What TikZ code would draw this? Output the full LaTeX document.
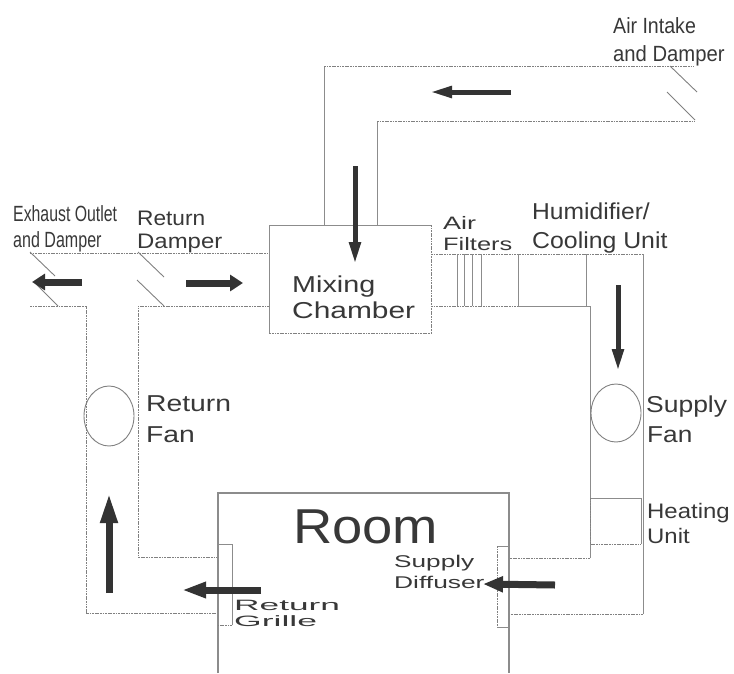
\documentclass[tikz,border=0pt]{standalone}
\usepackage{fontspec}
\setmainfont{Liberation Sans}
\usetikzlibrary{arrows.meta,positioning,calc}
\newcommand{\wide}[2]{\scalebox{#1}[1]{#2}}
\tikzset{
	duct/.style={draw=black!45,line width=0.9pt},
	ductdot/.style={draw=black!50,line width=0.9pt,dash pattern=on 1.8pt off 0.8pt},
	flap/.style={draw=black!50,line width=0.9pt},
	flow/.style={draw=black!80,line width=7pt,-{Triangle[length=13pt,width=16pt]}},
	thinflow/.style={draw=black!80,line width=5pt,-{Triangle[length=22pt,width=11pt]}},
	lbl/.style={anchor=base west,inner sep=0pt,text=black!78,font=\fontsize{#1}{#1}\selectfont},
}
\begin{document}
\begin{tikzpicture}[x=1pt,y=-1pt]
		\useasboundingbox (0,0) rectangle (734,673);
		
		% outside air duct
		\coordinate (IA) at (324,225);
		\coordinate (IB) at (324,66);
		\coordinate (IC) at (694,66);
		\coordinate (ID) at (377,225);
		\coordinate (IE) at (377,121);
		\coordinate (IF) at (695,121);
		\draw[duct] (IA)--(IB);
		\draw[duct] (ID)--(IE);
		\draw[ductdot] (IB)--(IC);
		\draw[ductdot] (IE)--(IF);
		
		% mixing chamber
		\coordinate (MA) at (269,225);
		\coordinate (MB) at (431,225);
		\coordinate (MC) at (431,333);
		\coordinate (MD) at (269,333);
		\draw[duct] (MD)--(MA)--(MB);
		\draw[ductdot] (MB)--(MC)--(MD);
		
		% return side
		\coordinate (RA) at (30,253);
		\coordinate (RB) at (30,306);
		\coordinate (RC) at (86,306);
		\coordinate (RD) at (86,613);
		\coordinate (RE) at (218,613);
		\coordinate (RF) at (269,253);
		\coordinate (RG) at (269,306);
		\coordinate (RH) at (138,306);
		\coordinate (RI) at (138,557);
		\coordinate (RJ) at (218,557);
		\draw[ductdot] (RA)--(RF);
		\draw[ductdot] (RB)--(RC)--(RD)--(RE);
		\draw[ductdot] (RG)--(RH)--(RI)--(RJ);
		
		% supply side
		\coordinate (SA) at (431,254);
		\coordinate (SB) at (643,254);
		\coordinate (SC) at (643,614);
		\coordinate (SD) at (509,614);
		\coordinate (SE) at (431,306);
		\coordinate (SF) at (590,306);
		\coordinate (SG) at (590,558);
		\coordinate (SH) at (509,558);
		\draw[ductdot] (SA)--(SB);
		\draw[duct] (SB)--(SC);
		\draw[ductdot] (SC)--(SD);
		\draw[ductdot] (SE)--(518,306);
		\draw[duct] (518,306)--(SF)--(SG);
		\draw[ductdot] (SG)--(SH);
		
		% filters, humidifier, heating unit
		\foreach \fx in {457,464,472,481}
			\draw[duct] (\fx,254)--(\fx,306);
		\draw[duct] (518,254)--(518,306);
		\draw[duct] (586,254)--(586,306);
		\draw[duct] (641,498)--(590,498);
		\draw[ductdot] (590,498)--(590,544)--(641,544);
		\draw[duct] (641,498)--(641,544);
		
		% fans
		\draw[flap] (109,416) ellipse (25 and 30);
		\draw[flap] (616,413) ellipse (25 and 29);
		
		% room with grille and diffuser
		\coordinate (RoA) at (218,673);
		\coordinate (RoB) at (218,493);
		\coordinate (RoC) at (509,493);
		\coordinate (RoD) at (509,673);
		\draw[duct,line width=1.2pt] (RoA)--(RoB)--(RoC)--(RoD);
		\draw[duct] (218,544)--(232,544)--(232,625);
		\draw[ductdot] (232,625)--(218,625);
		\draw[duct] (509,546)--(497,546);
		\draw[ductdot] (497,546)--(497,627);
		\draw[duct] (497,627)--(509,627);
		
		% dampers
		\coordinate (EA) at (30,252);
		\coordinate (EB) at (55,276);
		\coordinate (EC) at (36,284);
		\coordinate (ED) at (58,306);
		\coordinate (DA) at (138,252);
		\coordinate (DB) at (164,277);
		\coordinate (DC) at (137,280);
		\coordinate (DD) at (164,306);
		\coordinate (AA) at (670,66);
		\coordinate (AB) at (697,92);
		\coordinate (AC) at (667,92);
		\coordinate (AD) at (695,120);
		\draw[flap] (EA)--(EB);
		\draw[flap] (EC)--(ED);
		\draw[flap] (DA)--(DB);
		\draw[flap] (DC)--(DD);
		\draw[flap] (AA)--(AB);
		\draw[flap] (AC)--(AD);
		
		% air flow
		\draw[flow,line width=5pt,-{Triangle[length=22pt,width=11pt]}] (511,92)--(430,92);
		\draw[thinflow] (355,166)--(355,264);
		\draw[flow] (82,282)--(32,282);
		\draw[flow] (186,283)--(243,283);
		\draw[thinflow] (618,285)--(618,371);
		\draw[flow,-{Triangle[length=30pt,width=16pt]}] (109,593)--(109,493);
		\draw[flow,-{Triangle[length=24pt,width=15pt]}] (261,590)--(182,590);
		\draw[flow,-{Triangle[length=20pt,width=15pt]}] (555,585)--(483,584);
		
		% labels
		\node[lbl=22] (intake1) at (613,33) {\wide{0.89}{Air Intake}};
		\node[lbl=22] (intake2) at (613,61) {\wide{0.92}{and Damper}};
		\node[lbl=22] (exhaust1) at (13,221) {\wide{0.72}{Exhaust Outlet}};
		\node[lbl=22] (exhaust2) at (13,247) {\wide{0.73}{and Damper}};
		\node[lbl=21] (retdamp1) at (137,225) {\wide{1.08}{Return}};
		\node[lbl=21] (retdamp2) at (137,248) {\wide{1.14}{Damper}};
		\node[lbl=23] (mix1) at (292,292) {\wide{1.25}{Mixing}};
		\node[lbl=23] (mix2) at (292,318) {\wide{1.3}{Chamber}};
		\node[lbl=18] (filt1) at (443,229) {\wide{1.5}{Air}};
		\node[lbl=18] (filt2) at (443,250) {\wide{1.41}{Filters}};
		\node[lbl=23] (humid1) at (532,219) {\wide{1.07}{Humidifier/}};
		\node[lbl=23] (humid2) at (532,248) {\wide{1.08}{Cooling Unit}};
		\node[lbl=23] (retfan1) at (146,411) {\wide{1.23}{Return}};
		\node[lbl=23] (retfan2) at (146,442) {\wide{1.23}{Fan}};
		\node[lbl=23] (supfan1) at (646,412) {\wide{1.15}{Supply}};
		\node[lbl=23] (supfan2) at (647,442) {\wide{1.14}{Fan}};
		\node[lbl=21] (heat1) at (647,518) {\wide{1.14}{Heating}};
		\node[lbl=21] (heat2) at (647,543) {\wide{1.14}{Unit}};
		\node[lbl=49] (room) at (293,543) {\wide{1.11}{Room}};
		\node[lbl=17] (diff1) at (394,567) {\wide{1.54}{Supply}};
		\node[lbl=17] (diff2) at (394,588) {\wide{1.55}{Diffuser}};
		\node[lbl=15] (grille1) at (234,610) {\wide{2.35}{Return}};
		\node[lbl=15] (grille2) at (234,626) {\wide{2.37}{Grille}};
		
	\end{tikzpicture}
\end{document}
